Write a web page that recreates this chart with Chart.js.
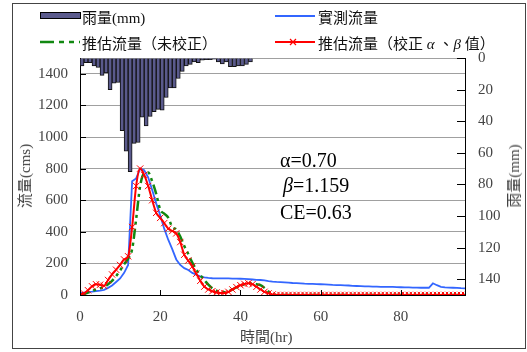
<!DOCTYPE html>
<html>
<head>
<meta charset="utf-8">
<script src="https://cdn.jsdelivr.net/npm/chart.js@4.4.1/dist/chart.umd.min.js"></script>
<style>
body { margin: 0; background: #fff; }
#wrap { position: relative; width: 527px; height: 352px; font-family: "Liberation Serif", "Noto Sans CJK TC", serif; }
#frame { position: absolute; left: 12px; top: 3px; width: 514px; height: 346px; border: 1px solid #444; box-sizing: border-box; }
canvas { position: absolute; left: 0; top: 0; }
.t { position: absolute; white-space: nowrap; line-height: 16px; }
.leg { font-size: 15px; color: #111; }
.sw { position: absolute; }
.note { font-size: 20px; line-height: 20px; color: #000; }
.ax { font-size: 15px; color: #444; }
</style>
</head>
<body>
<div id="wrap">
  <div id="frame"></div>
  <canvas id="chart" width="527" height="352"></canvas>

  <svg class="sw" style="left:40px;top:12px" width="42" height="8"><rect x="0.5" y="0.5" width="40" height="6" fill="#5a5a8c" stroke="#000"/></svg>
  <div class="t leg" style="left:82px;top:10px">雨量(mm)</div>
  <svg class="sw" style="left:275px;top:11px" width="42" height="10"><line x1="0" y1="5" x2="40" y2="5" stroke="#3366ff" stroke-width="2"/></svg>
  <div class="t leg" style="left:318px;top:10px">實測流量</div>

  <svg class="sw" style="left:40px;top:37px" width="42" height="10"><line x1="0" y1="5" x2="40" y2="5" stroke="#118811" stroke-width="2.5" stroke-dasharray="14,5,5,5,5,5"/></svg>
  <div class="t leg" style="left:82px;top:36px">推估流量（未校正）</div>
  <svg class="sw" style="left:275px;top:37px" width="42" height="10"><line x1="0" y1="5" x2="40" y2="5" stroke="#ff0000" stroke-width="2"/><path d="M15,2 L21,8 M21,2 L15,8" stroke="#ff0000" stroke-width="1.2"/></svg>
  <div class="t leg" style="left:318px;top:36px">推估流量（校正 <i>α</i> 、<i>β</i> 值）</div>

  <div class="t note" style="left:280px;top:150px">α=0.70</div>
  <div class="t note" style="left:283px;top:175px"><i>β</i>=1.159</div>
  <div class="t note" style="left:280px;top:202px">CE=0.63</div>

  <div class="t ax" style="left:240px;top:329px">時間(hr)</div>
  <div class="t ax" style="left:25px;top:176px;transform:translate(-50%,-50%) rotate(-90deg)">流量(cms)</div>
  <div class="t ax" style="left:514px;top:176px;transform:translate(-50%,-50%) rotate(-90deg)">雨量(mm)</div>
</div>

<script>
// time axis (hr), one value per hour
const hours = [0,1,2,3,4,5,6,7,8,9,10,11,12,13,14,15,16,17,18,19,20,21,22,23,24,25,26,27,28,29,30,31,32,33,34,35,36,37,38,39,40,41,42,43,44,45,46,47,48,49,50,51,52,53,54,55,56,57,58,59,60,61,62,63,64,65,66,67,68,69,70,71,72,73,74,75,76,77,78,79,80,81,82,83,84,85,86,87,88,89,90,91,92,93,94,95,96];

// hourly rainfall (mm), hour 1..43
const rain = [5,3,3,5,6,11,9.5,20,16,15.5,46,59,72,54,53.5,37.5,43,37,34,32.5,33,25,19,19,13,8.5,5,4,2.5,3,1.3,1,1,0.8,2.5,3.8,2.5,5.5,5.5,5,5,4,2.5];

// observed discharge (cms)
const observed = [12,15,20,22,25,28,33,45,60,82,105,140,190,
  720,738,800,790,745,665,580,505,420,350,290,225,
  190,170,158,140,128,118,112,108,106,105,105,105,
  105,104,104,103,102,100,98,96,95,92,88,85,
  83,82,80,78,76,75,74,72,71,70,69,68,
  67,66,64,63,62,61,60,58,57,56,55,54,
  53,53,52,52,51,51,50,49,48,48,47,47,
  46,46,46,74,62,52,48,47,46,45,43,42];

// estimated discharge, uncalibrated (cms)
const estRaw = [0,5,15,25,35,42,50,68,90,120,155,195,230,
  290,480,690,770,775,720,640,540,515,490,430,415,
  370,310,260,205,160,125,95,65,42,28,20,18,
  22,35,48,58,68,74,73,68,62,45,22,8,
  0,0,0,0,0,0,0,0,0,0,0,0,
  0,0,0,0,0,0,0,0,0,0,0,0,
  0,0,0,0,0,0,0,0,0,0,0,0,
  0,0,0,0,0,0,0,0,0,0,0,0];

// estimated discharge, calibrated alpha/beta (cms)
const estCal = [0,10,30,55,68,65,58,95,130,160,190,225,245,
  430,690,800,760,690,600,520,488,455,420,405,390,
  335,255,218,180,135,90,53,35,24,16,12,12,
  20,35,50,62,70,74,68,52,35,20,10,3,
  0,0,0,0,0,0,0,0,0,0,0,0,
  0,0,0,0,0,0,0,0,0,0,0,0,
  0,0,0,0,0,0,0,0,0,0,0,0,
  0,0,0,0,0,0,0,0,0,0,0,0];

const xTicks = [0, 20, 40, 60, 80];
const flowTicks = [0, 200, 400, 600, 800, 1000, 1200, 1400];
const rainTicks = [0, 20, 40, 60, 80, 100, 120, 140];
const xMax = 96, flowMax = 1500, rainMax = 150;

const tickFont = { family: "Liberation Serif", size: 15 };

// tick marks pointing into the plot
const innerTicks = {
  id: "innerTicks",
  afterDatasetsDraw(chart) {
    const { ctx, chartArea, scales } = chart;
    ctx.save();
    ctx.strokeStyle = "#000";
    ctx.lineWidth = 1;
    ctx.beginPath();
    xTicks.forEach(v => {
      const px = Math.round(scales.x.getPixelForValue(v)) + 0.5;
      ctx.moveTo(px, chartArea.bottom);
      ctx.lineTo(px, chartArea.bottom - 5);
    });
    rainTicks.forEach(v => {
      const py = Math.round(scales.y1.getPixelForValue(v)) + 0.5;
      ctx.moveTo(chartArea.right, py);
      ctx.lineTo(chartArea.right - 8, py);
    });
    flowTicks.forEach(v => {
      const py = Math.round(scales.y.getPixelForValue(v)) + 0.5;
      ctx.moveTo(chartArea.left, py);
      ctx.lineTo(chartArea.left + 6, py);
    });
    ctx.stroke();
    ctx.restore();
  }
};

new Chart(document.getElementById("chart"), {
  type: "line",
  data: {
    labels: hours,
    datasets: [
      {
        label: "推估流量（校正α 、β值）",
        data: estCal,
        yAxisID: "y",
        order: 0,
        borderColor: "#ff0000",
        borderWidth: 2,
        cubicInterpolationMode: "monotone",
        pointStyle: "crossRot",
        pointRadius: 4.5,
        pointBorderWidth: 1,
        pointBorderColor: "#ff0000",
        pointBackgroundColor: "#ff0000"
      },
      {
        label: "推估流量（未校正）",
        data: estRaw,
        yAxisID: "y",
        order: 1,
        borderColor: "#118811",
        borderWidth: 2.5,
        borderDash: [10, 4, 3, 4, 3, 4],
        cubicInterpolationMode: "monotone",
        pointRadius: 0
      },
      {
        label: "實測流量",
        data: observed,
        yAxisID: "y",
        order: 2,
        borderColor: "#3366ff",
        borderWidth: 1.8,
        tension: 0,
        pointRadius: 0
      },
      {
        type: "bar",
        label: "雨量(mm)",
        data: rain.map((v, i) => ({ x: hours[i] + 0.5, y: v })),
        yAxisID: "y1",
        order: 3,
        backgroundColor: "#5a5a8c",
        borderColor: "#111",
        borderWidth: 1,
        barPercentage: 1,
        categoryPercentage: 1
      }
    ]
  },
  options: {
    responsive: false,
    animation: false,
    layout: { padding: { top: 58, left: 0, right: 0, bottom: 0 } },
    plugins: { legend: { display: false }, tooltip: { enabled: false } },
    scales: {
      x: {
        type: "linear",
        min: 0,
        max: xMax,
        offset: false,
        afterBuildTicks: s => { s.ticks = xTicks.map(v => ({ value: v })); },
        afterFit: s => { s.height = 57; },
        grid: { color: "rgba(0,0,0,0)", drawTicks: false },
        border: { color: "#000", width: 1 },
        ticks: { font: tickFont, color: "#444", padding: 13, maxRotation: 0 }
      },
      y: {
        position: "left",
        min: 0,
        max: flowMax,
        afterBuildTicks: s => { s.ticks = flowTicks.concat([flowMax]).map(v => ({ value: v })); },
        afterFit: s => { s.width = 80; },
        grid: {
          drawTicks: false,
          color: c => (c.tick && c.tick.value === 0 ? "rgba(0,0,0,0)" : "#a0a0a0")
        },
        border: { color: "#000", width: 1 },
        ticks: {
          font: tickFont,
          color: "#444",
          padding: 12,
          callback: v => (flowTicks.includes(v) ? v : "")
        }
      },
      y1: {
        position: "right",
        reverse: true,
        min: 0,
        max: rainMax,
        afterBuildTicks: s => { s.ticks = rainTicks.map(v => ({ value: v })); },
        afterFit: s => { s.width = 62; },
        grid: { color: "rgba(0,0,0,0)", drawTicks: false },
        border: { color: "#000", width: 1 },
        ticks: { font: tickFont, color: "#444", padding: 13 }
      }
    }
  },
  plugins: [innerTicks]
});
</script>
</body>
</html>
